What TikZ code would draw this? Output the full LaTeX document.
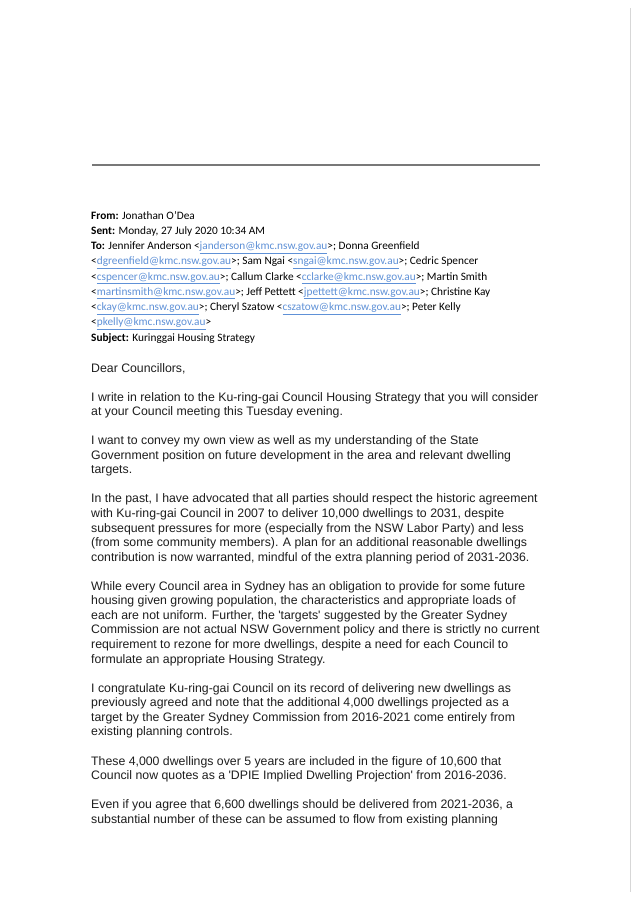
\documentclass[tikz,border=0pt]{standalone}
\usepackage{fontspec}
\newfontfamily\hdrfont{Carlito}
\newfontfamily\bodyfont{Liberation Sans}
\definecolor{linkblue}{RGB}{95,145,215}
\definecolor{bodygray}{RGB}{30,30,30}
\definecolor{rulegray}{RGB}{120,120,120}
\definecolor{bordergray}{RGB}{215,215,215}
\newcommand{\lnk}[1]{\textcolor{linkblue}{\underline{#1}}}
\tikzset{
  hdr/.style={anchor=base west, inner sep=0pt, text=black,
    font=\hdrfont\fontsize{11.3bp}{13bp}\selectfont},
  bodyline/.style={anchor=base west, inner sep=0pt, text=bodygray,
    font=\bodyfont\fontsize{12.3bp}{14bp}\selectfont},
  rule/.style={draw=rulegray, line width=1.4bp},
  border/.style={draw=bordergray, line width=1bp}
}
\begin{document}
\begin{tikzpicture}[x=1bp,y=-1bp]
\useasboundingbox[fill=white] (0,0) rectangle (637,900);
% separator rule and page edge
\coordinate (ruleL) at (92,165);
\coordinate (ruleR) at (540,165);
\draw[rule] (ruleL) -- (ruleR);
\coordinate (edgeT) at (630,8);
\coordinate (edgeB) at (630,892);
\draw[border] (edgeT) -- (edgeB);
% header
\node[hdr] (h1) at (91,{219+15.25*0}) {\textbf{From:} Jonathan O’Dea};
\node[hdr] (h2) at (91,{219+15.25*1}) {\textbf{Sent:} Monday, 27 July 2020 10:34 AM};
\node[hdr] (h3) at (91,{219+15.25*2}) {\textbf{To:} Jennifer Anderson <\lnk{janderson@kmc.nsw.gov.au}>; Donna Greenfield};
\node[hdr] (h4) at (91,{219+15.25*3}) {<\lnk{dgreenfield@kmc.nsw.gov.au}>; Sam Ngai <\lnk{sngai@kmc.nsw.gov.au}>; Cedric Spencer};
\node[hdr] (h5) at (91,{219+15.25*4}) {<\lnk{cspencer@kmc.nsw.gov.au}>; Callum Clarke <\lnk{cclarke@kmc.nsw.gov.au}>; Martin Smith};
\node[hdr] (h6) at (91,{219+15.25*5}) {<\lnk{martinsmith@kmc.nsw.gov.au}>; Jeff Pettett <\lnk{jpettett@kmc.nsw.gov.au}>; Christine Kay};
\node[hdr] (h7) at (91,{219+15.25*6}) {<\lnk{ckay@kmc.nsw.gov.au}>; Cheryl Szatow <\lnk{cszatow@kmc.nsw.gov.au}>; Peter Kelly};
\node[hdr] (h8) at (91,{219+15.25*7}) {<\lnk{pkelly@kmc.nsw.gov.au}>};
\node[hdr] (h9) at (91,{219+15.25*8}) {\textbf{Subject:} Kuringgai Housing Strategy};
% body
\node[bodyline] (dear) at (91,372) {Dear Councillors,};
\node[bodyline] (b0) at (91,{401+14.56*0}) {I write in relation to the Ku-ring-gai Council Housing Strategy that you will consider};
\node[bodyline] (b1) at (91,{401+14.56*1}) {at your Council meeting this Tuesday evening.};
\node[bodyline] (b3) at (91,{401+14.56*3}) {I want to convey my own view as well as my understanding of the State};
\node[bodyline] (b4) at (91,{401+14.56*4}) {Government position on future development in the area and relevant dwelling};
\node[bodyline] (b5) at (91,{401+14.56*5}) {targets.};
\node[bodyline] (b7) at (91,{401+14.56*7}) {In the past, I have advocated that all parties should respect the historic agreement};
\node[bodyline] (b8) at (91,{401+14.56*8}) {with Ku-ring-gai Council in 2007 to deliver 10,000 dwellings to 2031, despite};
\node[bodyline] (b9) at (91,{401+14.56*9}) {subsequent pressures for more (especially from the NSW Labor Party) and less};
\node[bodyline] (b10) at (91,{401+14.56*10}) {(from some community members). A plan for an additional reasonable dwellings};
\node[bodyline] (b11) at (91,{401+14.56*11}) {contribution is now warranted, mindful of the extra planning period of 2031-2036.};
\node[bodyline] (b13) at (91,{401+14.56*13}) {While every Council area in Sydney has an obligation to provide for some future};
\node[bodyline] (b14) at (91,{401+14.56*14}) {housing given growing population, the characteristics and appropriate loads of};
\node[bodyline] (b15) at (91,{401+14.56*15}) {each are not uniform. Further, the \textquotesingle targets\textquotesingle{} suggested by the Greater Sydney};
\node[bodyline] (b16) at (91,{401+14.56*16}) {Commission are not actual NSW Government policy and there is strictly no current};
\node[bodyline] (b17) at (91,{401+14.56*17}) {requirement to rezone for more dwellings, despite a need for each Council to};
\node[bodyline] (b18) at (91,{401+14.56*18}) {formulate an appropriate Housing Strategy.};
\node[bodyline] (b20) at (91,{401+14.56*20}) {I congratulate Ku-ring-gai Council on its record of delivering new dwellings as};
\node[bodyline] (b21) at (91,{401+14.56*21}) {previously agreed and note that the additional 4,000 dwellings projected as a};
\node[bodyline] (b22) at (91,{401+14.56*22}) {target by the Greater Sydney Commission from 2016-2021 come entirely from};
\node[bodyline] (b23) at (91,{401+14.56*23}) {existing planning controls.};
\node[bodyline] (b25) at (91,{401+14.56*25}) {These 4,000 dwellings over 5 years are included in the figure of 10,600 that};
\node[bodyline] (b26) at (91,{401+14.56*26}) {Council now quotes as a \textquotesingle DPIE Implied Dwelling Projection\textquotesingle{} from 2016-2036.};
\node[bodyline] (b28) at (91,{401+14.56*28}) {Even if you agree that 6,600 dwellings should be delivered from 2021-2036, a};
\node[bodyline] (b29) at (91,{401+14.56*29}) {substantial number of these can be assumed to flow from existing planning};
\end{tikzpicture}
\end{document}
